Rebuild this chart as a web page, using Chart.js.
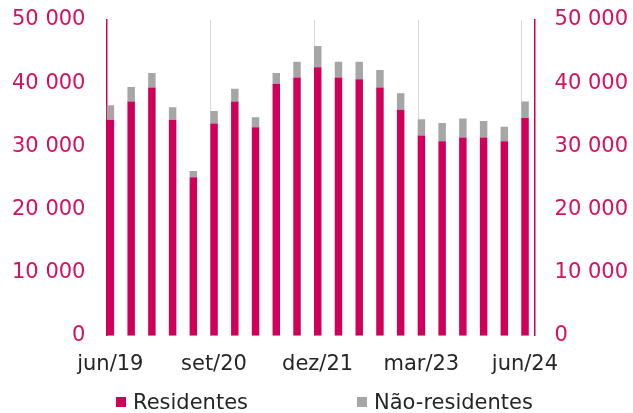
<!DOCTYPE html>
<html>
<head>
<meta charset="utf-8">
<script src="https://cdn.jsdelivr.net/npm/chart.js@4.4.1/dist/chart.umd.min.js"></script>
<style>
  html, body { margin: 0; padding: 0; background: #fff; }
  #wrap { position: relative; width: 633px; height: 413px; }
</style>
</head>
<body>
<div id="wrap"><canvas id="dataChart" width="633" height="413"></canvas></div>
<script>
'use strict';
const quarters = ['jun/19', 'set/19', 'dez/19', 'mar/20', 'jun/20', 'set/20', 'dez/20', 'mar/21', 'jun/21', 'set/21', 'dez/21',
  'mar/22', 'jun/22', 'set/22', 'dez/22', 'mar/23', 'jun/23', 'set/23', 'dez/23', 'mar/24', 'jun/24'];
const residentes = [34200, 37100, 39300, 34200, 25100, 33600, 37100, 33000, 39900, 40900, 42500,
  40900, 40600, 39300, 35800, 31700, 30800, 31400, 31400, 30800, 34500];
const naoResidentes = [2300, 2300, 2300, 2000, 1000, 2000, 2000, 1600, 1700, 2500, 3400,
  2500, 2800, 2800, 2600, 2600, 2900, 3000, 2600, 2300, 2600];
const labelEvery = 5;
const seriesNames = ['Residentes', 'Não-residentes'];

const crimson = '#CF0059';
const grey = '#A6A6A6';
const font = '"DejaVu Sans", sans-serif';

function points(values) {
  return values.map((v, i) => ({ x: i, y: v }));
}

function spaced(v) {
  return String(v).replace(/\B(?=(\d{3})+(?!\d))/g, ' ');
}

// the y axes would otherwise reserve their tick padding above and below the plot
function noVerticalPad(scale) {
  scale.paddingTop = 0;
  scale.paddingBottom = 0;
}

// legend drawn by hand so the two items can sit far apart like the original
const bottomLegend = {
  id: 'bottomLegend',
  afterDraw(chart) {
    const ctx = chart.ctx;
    const items = [
      { text: seriesNames[0], color: crimson, x: 116 },
      { text: seriesNames[1], color: grey, x: 357 }
    ];
    ctx.save();
    ctx.font = '21px ' + font;
    ctx.textBaseline = 'alphabetic';
    items.forEach(item => {
      ctx.fillStyle = item.color;
      ctx.fillRect(item.x, 397, 10, 10);
      ctx.fillStyle = '#262626';
      ctx.fillText(item.text, item.x + 17, 409);
    });
    ctx.restore();
  }
};

let ctx = document.getElementById('dataChart').getContext('2d');
let chart = new Chart(ctx, {
  type: 'bar',
  data: {
    datasets: [{
      label: seriesNames[0],
      data: points(residentes),
      backgroundColor: crimson,
      barPercentage: 0.36,
      categoryPercentage: 1
    },
    {
      label: seriesNames[1],
      data: points(naoResidentes),
      backgroundColor: grey,
      barPercentage: 0.36,
      categoryPercentage: 1
    }]
  },
  options: {
    responsive: false,
    animation: false,
    layout: { padding: { left: -9, right: -14.5, top: 20, bottom: 20 } },
    plugins: {
      legend: { display: false },
      tooltip: { enabled: false }
    },
    scales: {
      x: {
        type: 'linear',
        stacked: true,
        offset: false,
        min: -0.19,
        max: 20.48,
        afterBuildTicks: scale => {
          let t = [];
          for (let i = 0; i < quarters.length; i += labelEvery) {
            t.push({ value: i - 0.15 });
          }
          scale.ticks = t;
        },
        border: { display: false },
        grid: {
          offset: false,
          drawTicks: false,
          lineWidth: 1,
          color: c => (c.index === 0 ? 'rgba(0,0,0,0)' : '#D9D9D9')
        },
        ticks: {
          callback: value => quarters[Math.round(value)],
          labelOffset: 3,
          padding: 16,
          maxRotation: 0,
          autoSkip: false,
          color: '#262626',
          font: { family: font, size: 21 }
        }
      },
      y: {
        position: 'left',
        stacked: true,
        min: 0,
        max: 50000,
        afterFit: noVerticalPad,
        grid: { display: false, drawTicks: false },
        border: { display: true, color: crimson, width: 1.5 },
        ticks: {
          stepSize: 10000,
          padding: 21,
          callback: v => spaced(v),
          color: '#D5105F',
          font: { family: font, size: 21 }
        }
      },
      y2: {
        position: 'right',
        min: 0,
        max: 50000,
        afterFit: noVerticalPad,
        grid: { display: false, drawTicks: false },
        border: { display: true, color: crimson, width: 1.5 },
        ticks: {
          stepSize: 10000,
          padding: 19.5,
          callback: v => spaced(v),
          color: '#D5105F',
          font: { family: font, size: 21 }
        }
      }
    }
  },
  plugins: [bottomLegend]
});
</script>
</body>
</html>
